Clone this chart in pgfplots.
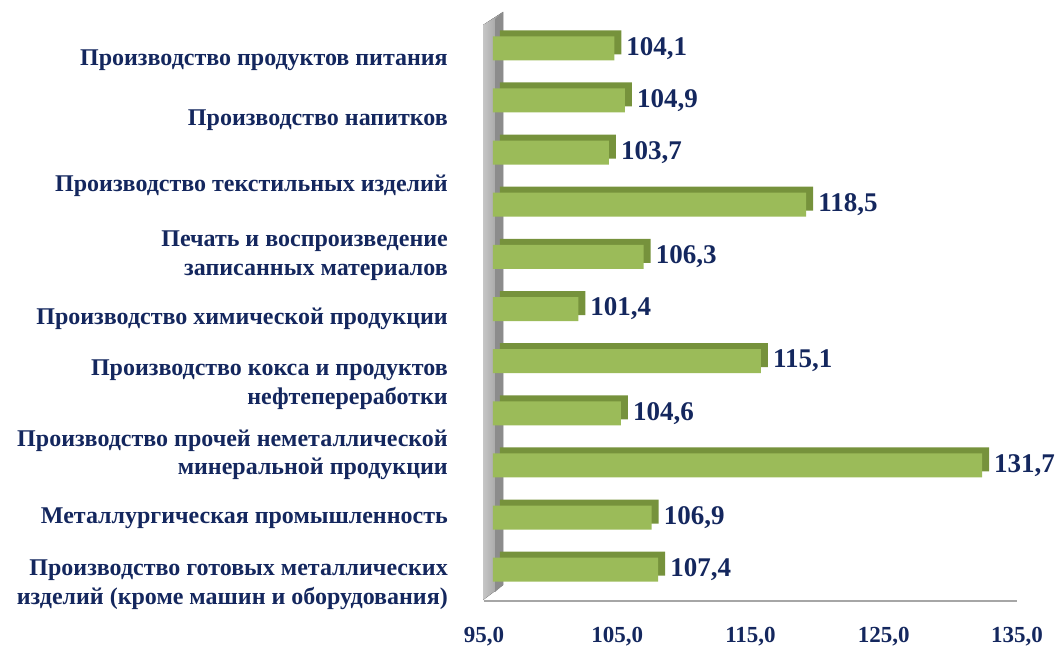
\documentclass[border=0pt]{standalone}
\usepackage{fontspec}
\setmainfont{Liberation Serif}
\usepackage{pgfplots}
\usepackage{pgfplotstable}
\pgfplotsset{compat=1.18}
\definecolor{navy}{HTML}{14275E}
\definecolor{barfront}{HTML}{9BBB59}
\definecolor{bartop}{HTML}{76923C}
\pgfplotstableread{
y v
1 104.1
2 104.9
3 103.7
4 118.5
5 106.3
6 101.4
7 115.1
8 104.6
9 131.7
10 106.9
11 107.4
}\datatable
\begin{document}
\begin{tikzpicture}[x=1pt,y=1pt]
\fill[left color=gray!45, right color=gray!80] (-1,1) -- (-1,576) -- (19,589) -- (19,16) -- cycle;
\fill[gray!90] (11,9) -- (11,582) -- (19,589) -- (19,16) -- cycle;
\begin{axis}[
  at={(0,0)}, anchor=south west,
  scale only axis, width=533pt, height=584pt,
  xmin=95, xmax=135, ymin=0.4, ymax=11.6, y dir=reverse,
  x coord trafo/.code={\pgfmathparse{#1-95}},
  x coord inv trafo/.code={\pgfmathparse{#1+95}},
  xtick={95,105,115,125,135},
  xticklabels={{95,0},{105,0},{115,0},{125,0},{135,0}},
  axis x line*=bottom, axis y line*=left,
  x axis line style={draw=gray!70, line width=2pt, -},
  y axis line style={draw=none},
  major tick length=0pt,
  ytick={1.17,2.32,3.57,4.92,6.14,7.39,8.74,9.96,11.23},
  yticklabels={
    Производство продуктов питания,
    Производство напитков,
    Производство текстильных изделий,
    {Печать и воспроизведение\\записанных материалов},
    Производство химической продукции,
    {Производство кокса и продуктов\\нефтепереработки},
    {Производство прочей неметаллической\\минеральной продукции},
    Металлургическая промышленность,
    {Производство готовых металлических\\изделий (кроме машин и оборудования)}
  },
  yticklabel style={font=\fontsize{24}{28.5}\selectfont\bfseries, text=navy, align=right, anchor=east, inner sep=0pt, xshift=-36pt, yshift=-3pt},
  xticklabel style={font=\fontsize{23}{23}\selectfont\bfseries, text=navy, anchor=north, inner sep=0pt, yshift=-26pt},
  clip=false,
]
\addplot[xbar, bar width=24pt, fill=bartop, draw=none, xshift=16pt, yshift=6pt, forget plot]
  table[x=v,y=y]{\datatable};
\addplot[xbar, bar width=24pt, draw=none, fill=barfront, xshift=9pt,
  point meta=explicit,
  nodes near coords={\pgfmathprintnumber[fixed,fixed zerofill,precision=1,use comma,assume math mode=true]{\pgfplotspointmeta}},
  every node near coord/.style={font=\fontsize{27}{27}\selectfont\bfseries, text=navy, anchor=west, inner sep=0pt, xshift=12pt}]
  table[x=v,y=y,meta=v]{\datatable};
\end{axis}
\pgfresetboundingbox
\path[use as bounding box] (-484,-48) rectangle (573,601);
\end{tikzpicture}
\end{document}
